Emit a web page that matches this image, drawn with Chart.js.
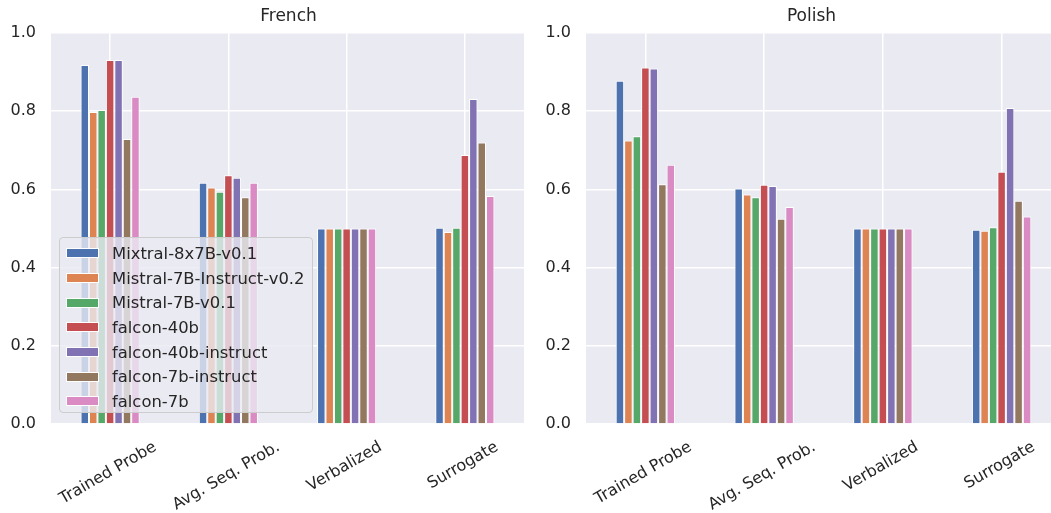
<!DOCTYPE html>
<html>
<head>
<meta charset="utf-8">
<script src="https://cdn.jsdelivr.net/npm/chart.js@4"></script>
<style>
  body { margin: 0; width: 1051px; height: 513px; overflow: hidden; background: #fff; position: relative; font-family: 'DejaVu Sans', sans-serif; }
  #leftWrap { position: absolute; left: 0; top: 0; width: 530px; height: 513px; }
  #rightWrap { position: absolute; left: 530px; top: 0; width: 545px; height: 513px; }
  #legend { position: absolute; left: 59px; top: 237px; width: 254px; height: 176px; background: rgba(234,234,242,0.8); border: 1px solid #cccccc; border-radius: 4px; box-sizing: border-box; padding-top: 3px; }
  .row { height: 24.7px; display: flex; align-items: center; font-size: 16.4px; color: #262626; white-space: nowrap; }
  .swatch { width: 33px; height: 10px; margin-left: 6px; margin-right: 13px; box-sizing: border-box; border: 1px solid #fff; }
</style>
</head>
<body>
<div id="leftWrap"><canvas id="frenchChart" width="530" height="513"></canvas></div>
<div id="rightWrap"><canvas id="polishChart" width="545" height="513"></canvas></div>
<div id="legend"></div>
<script>
const categories = ['Trained Probe', 'Avg. Seq. Prob.', 'Verbalized', 'Surrogate'];
const models = ['Mixtral-8x7B-v0.1', 'Mistral-7B-Instruct-v0.2', 'Mistral-7B-v0.1', 'falcon-40b', 'falcon-40b-instruct', 'falcon-7b-instruct', 'falcon-7b'];
const colors = ['#4C72B0', '#DD8452', '#55A868', '#C44E52', '#8172B3', '#937860', '#DA8BC3'];
const yTicks = [0, 0.2, 0.4, 0.6, 0.8, 1.0];

// one row per model, values across categories
const french = [
  [0.918, 0.617, 0.5, 0.502],
  [0.798, 0.605, 0.5, 0.491],
  [0.803, 0.594, 0.5, 0.502],
  [0.931, 0.636, 0.5, 0.688],
  [0.931, 0.630, 0.5, 0.831],
  [0.729, 0.580, 0.5, 0.720],
  [0.837, 0.617, 0.5, 0.583]
];
const polish = [
  [0.878, 0.602, 0.5, 0.497],
  [0.725, 0.587, 0.5, 0.494],
  [0.736, 0.580, 0.5, 0.503],
  [0.912, 0.612, 0.5, 0.645],
  [0.909, 0.609, 0.5, 0.808],
  [0.613, 0.525, 0.5, 0.571],
  [0.663, 0.555, 0.5, 0.531]
];

const textColor = '#262626';
const fontFamily = "'DejaVu Sans', sans-serif";

// grey panel behind the bars
const panelBg = {
  id: 'panelBg',
  beforeDraw(chart) {
    const {ctx, chartArea} = chart;
    ctx.save();
    ctx.fillStyle = '#EAEAF2';
    ctx.fillRect(chartArea.left, chartArea.top, chartArea.right - chartArea.left, chartArea.bottom - chartArea.top);
    ctx.restore();
  }
};

// panel title, with a small horizontal nudge
const panelTitle = {
  id: 'panelTitle',
  afterDraw(chart, args, opts) {
    const {ctx, chartArea} = chart;
    ctx.save();
    ctx.font = '17px ' + fontFamily;
    ctx.fillStyle = textColor;
    ctx.textAlign = 'center';
    ctx.textBaseline = 'middle';
    ctx.fillText(opts.text, (chartArea.left + chartArea.right) / 2 + opts.shift, 17);
    ctx.restore();
  }
};

// rotated x labels, centred under each tick like matplotlib
const rotatedLabels = {
  id: 'rotatedLabels',
  afterDraw(chart) {
    const {ctx, chartArea} = chart;
    const xScale = chart.scales.x;
    const size = 16;
    const angle = Math.PI / 6;
    ctx.save();
    ctx.font = size + 'px ' + fontFamily;
    ctx.fillStyle = textColor;
    ctx.textAlign = 'center';
    ctx.textBaseline = 'middle';
    categories.forEach((label, i) => {
      const w = ctx.measureText(label).width;
      const boxH = w * Math.sin(angle) + size * Math.cos(angle);
      const x = xScale.getPixelForTick(i) - 2;
      const y = chartArea.bottom + 15 + boxH / 2;
      ctx.save();
      ctx.translate(x, y);
      ctx.rotate(-angle);
      ctx.fillText(label, 0, 0);
      ctx.restore();
    });
    ctx.restore();
  }
};

const makeChart = (canvasId, title, values, axisWidth, padRight, titleShift) => {
  const datasets = models.map((name, i) => ({
    label: name,
    data: values[i],
    backgroundColor: colors[i],
    borderColor: '#ffffff',
    borderWidth: 1,
    borderSkipped: 'start',
    categoryPercentage: 0.5,
    barPercentage: 1.0
  }));

  return new Chart(document.getElementById(canvasId), {
    type: 'bar',
    data: { labels: categories, datasets: datasets },
    options: {
      responsive: false,
      animation: false,
      layout: { padding: { left: 0, right: padRight, top: 33, bottom: 89 } },
      plugins: {
        legend: { display: false },
        tooltip: { enabled: false },
        title: { display: false },
        panelTitle: { text: title, shift: titleShift }
      },
      scales: {
        x: {
          offset: true,
          border: { display: false },
          grid: { color: '#ffffff', lineWidth: 1.5, offset: false, drawTicks: false },
          ticks: { display: false }
        },
        y: {
          min: 0,
          max: 1,
          afterFit: s => { s.width = axisWidth; },
          afterBuildTicks: s => { s.ticks = yTicks.map(v => ({ value: v })); },
          border: { display: false },
          grid: { color: '#ffffff', lineWidth: 1.5, drawTicks: false },
          ticks: {
            padding: 15,
            color: textColor,
            font: { family: fontFamily, size: 16 },
            callback: v => v.toFixed(1)
          }
        }
      }
    },
    plugins: [panelBg, panelTitle, rotatedLabels]
  });
};

makeChart('frenchChart', 'French', french, 51, 6, 1);
makeChart('polishChart', 'Polish', polish, 56, 14, -12);

// legend box sits inside the French panel
const legendBox = document.getElementById('legend');
models.forEach((name, i) => {
  const row = document.createElement('div');
  row.classList.add('row');
  const swatch = document.createElement('div');
  swatch.classList.add('swatch');
  swatch.style.background = colors[i];
  const text = document.createElement('span');
  text.textContent = name;
  row.append(swatch, text);
  legendBox.append(row);
});
</script>
</body>
</html>
